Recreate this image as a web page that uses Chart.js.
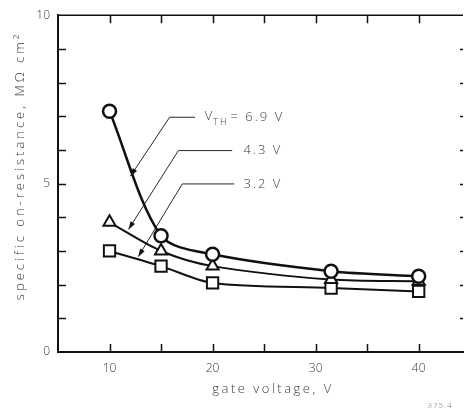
<!DOCTYPE html>
<html>
<head>
<meta charset="utf-8">
<script src="https://cdn.jsdelivr.net/npm/chart.js@4"></script>
<style>
  body { margin: 0; background: #fff; }
  #ronChart { display: block; }
</style>
</head>
<body>
<canvas id="ronChart" width="473" height="417"></canvas>
<script>
// gate voltage (V) at which each curve was measured
const gateVoltage = [10, 15, 20, 31.5, 40];
// specific on-resistance, MOhm cm^2, one array per threshold voltage
const ronVth69 = [7.15, 3.45, 2.9, 2.4, 2.25];
const ronVth43 = [3.85, 3.0, 2.55, 2.15, 2.1];
const ronVth32 = [3.0, 2.55, 2.05, 1.9, 1.8];
const seriesLabels = ['6.9 V', '4.3 V', '3.2 V'];

const xTickLabels = [10, 20, 30, 40];
const yTickLabels = [0, 5, 10];
const xMinorTicks = [10, 15, 20, 25, 30, 35, 40];
const yMinorTicks = [1, 2, 3, 4, 5, 6, 7, 8, 9];

const FONT = "'Open Sans', 'DejaVu Sans', sans-serif";
const INK = '#111';
const TEXT = '#3a3a3a';

const toPoints = ys => gateVoltage.map((x, i) => ({ x: x, y: ys[i] }));

// leader lines for the V_TH labels, in data units
const leaders = [
  { text: '6.9 V', sub: true, elbow: [15.83, 6.97], end: 18.3, tip: [12.03, 5.22], textX: 19.25 },
  { text: '4.3 V', sub: false, elbow: [16.68, 5.98], end: 21.9, tip: [11.84, 3.64], textX: 23.0 },
  { text: '3.2 V', sub: false, elbow: [17.06, 4.99], end: 22.1, tip: [12.79, 2.83], textX: 23.0 },
];

const framePlugin = {
  id: 'frame',
  afterDatasetsDraw(chart) {
    const ctx = chart.ctx;
    const { left, right, top, bottom } = chart.chartArea;
    const xs = chart.scales.x, ys = chart.scales.y;
    ctx.save();
    ctx.strokeStyle = INK;
    ctx.lineWidth = 1.5;
    ctx.beginPath();
    ctx.moveTo(left, top);
    ctx.lineTo(right, top);
    ctx.stroke();

    xMinorTicks.forEach(v => {
      const px = Math.round(xs.getPixelForValue(v)) + 0.5;
      ctx.beginPath();
      ctx.moveTo(px, bottom);
      ctx.lineTo(px, bottom - 8);
      ctx.moveTo(px, top);
      ctx.lineTo(px, top + 8);
      ctx.stroke();
    });
    yMinorTicks.forEach(v => {
      const py = Math.round(ys.getPixelForValue(v)) + 0.5;
      ctx.beginPath();
      ctx.moveTo(left, py);
      ctx.lineTo(left + 8, py);
      ctx.moveTo(right, py);
      ctx.lineTo(right - 3, py);
      ctx.stroke();
    });

    // leader lines with arrowheads
    ctx.lineWidth = 0.9;
    ctx.fillStyle = INK;
    leaders.forEach(l => {
      const ex = xs.getPixelForValue(l.elbow[0]), ey = ys.getPixelForValue(l.elbow[1]);
      const hx = xs.getPixelForValue(l.end);
      const tx = xs.getPixelForValue(l.tip[0]), ty = ys.getPixelForValue(l.tip[1]);
      ctx.beginPath();
      ctx.moveTo(hx, ey);
      ctx.lineTo(ex, ey);
      ctx.lineTo(tx, ty);
      ctx.stroke();
      const a = Math.atan2(ty - ey, tx - ex);
      const len = 8, half = 2.6;
      ctx.beginPath();
      ctx.moveTo(tx, ty);
      ctx.lineTo(tx - len * Math.cos(a) + half * Math.sin(a), ty - len * Math.sin(a) - half * Math.cos(a));
      ctx.lineTo(tx - len * Math.cos(a) - half * Math.sin(a), ty - len * Math.sin(a) + half * Math.cos(a));
      ctx.closePath();
      ctx.fill();

      ctx.fillStyle = TEXT;
      ctx.textBaseline = 'middle';
      ctx.textAlign = 'left';
      ctx.letterSpacing = '2px';
      let x = xs.getPixelForValue(l.textX);
      if (l.sub) {
        ctx.font = '300 13px ' + FONT;
        ctx.fillText('V', x, ey - 1);
        x += ctx.measureText('V').width;
        ctx.font = '300 9px ' + FONT;
        ctx.fillText('TH', x - 1, ey + 5);
        x += ctx.measureText('TH').width;
        ctx.font = '300 13px ' + FONT;
        ctx.fillText('= ' + l.text, x + 1, ey);
      } else {
        ctx.font = '300 13px ' + FONT;
        ctx.fillText(l.text, x, ey);
      }
      ctx.letterSpacing = '0px';
      ctx.fillStyle = INK;
    });

    // axis titles
    ctx.fillStyle = TEXT;
    ctx.textAlign = 'center';
    ctx.textBaseline = 'middle';
    ctx.font = '300 13px ' + FONT;
    ctx.letterSpacing = '2.5px';
    ctx.fillText('gate voltage, V', 273, 389);
    ctx.save();
    ctx.translate(20, 166);
    ctx.rotate(-Math.PI / 2);
    ctx.letterSpacing = '3px';
    ctx.fillText('specific on-resistance, M\u03a9 cm\u00b2', 0, 0);
    ctx.restore();
    ctx.letterSpacing = '1px';
    ctx.font = '300 8px ' + FONT;
    ctx.fillStyle = '#777';
    ctx.fillText('375.4', 440, 406);
    ctx.restore();
  }
};

const ctx = document.getElementById('ronChart').getContext('2d');
new Chart(ctx, {
  type: 'line',
  data: {
    datasets: [
      {
        label: seriesLabels[0],
        data: toPoints(ronVth69),
        borderColor: INK,
        borderWidth: 2.5,
        pointStyle: 'circle',
        pointRadius: 6.5,
      },
      {
        label: seriesLabels[1],
        data: toPoints(ronVth43),
        borderColor: INK,
        borderWidth: 2,
        pointStyle: 'triangle',
        pointRadius: 7,
      },
      {
        label: seriesLabels[2],
        data: toPoints(ronVth32),
        borderColor: INK,
        borderWidth: 2,
        pointStyle: 'rect',
        pointRadius: 8,
      },
    ],
  },
  options: {
    responsive: false,
    animation: false,
    devicePixelRatio: 1,
    elements: {
      line: { tension: 0.3, fill: false },
      point: { backgroundColor: '#fff', borderColor: INK, borderWidth: 1.4 },
    },
    layout: { padding: { top: 9, right: 1, left: 0, bottom: 0 } },
    plugins: { legend: { display: false }, tooltip: { enabled: false } },
    scales: {
      x: {
        type: 'linear',
        min: 5,
        max: 44.3,
        afterBuildTicks: s => { s.ticks = xTickLabels.map(v => ({ value: v })); },
        afterFit: s => { s.height = 65; },
        grid: { display: false, drawTicks: false },
        border: { display: true, color: INK, width: 2 },
        ticks: { color: TEXT, padding: 9, maxRotation: 0, font: { family: FONT, size: 12, weight: 300 } },
      },
      y: {
        min: 0,
        max: 10,
        afterBuildTicks: s => { s.ticks = yTickLabels.map(v => ({ value: v })); },
        afterFit: s => { s.width = 58; },
        grid: { display: false, drawTicks: false },
        border: { display: true, color: INK, width: 2 },
        ticks: { color: TEXT, padding: 8, font: { family: FONT, size: 12, weight: 300 } },
      },
    },
  },
  plugins: [framePlugin],
});
</script>
</body>
</html>
